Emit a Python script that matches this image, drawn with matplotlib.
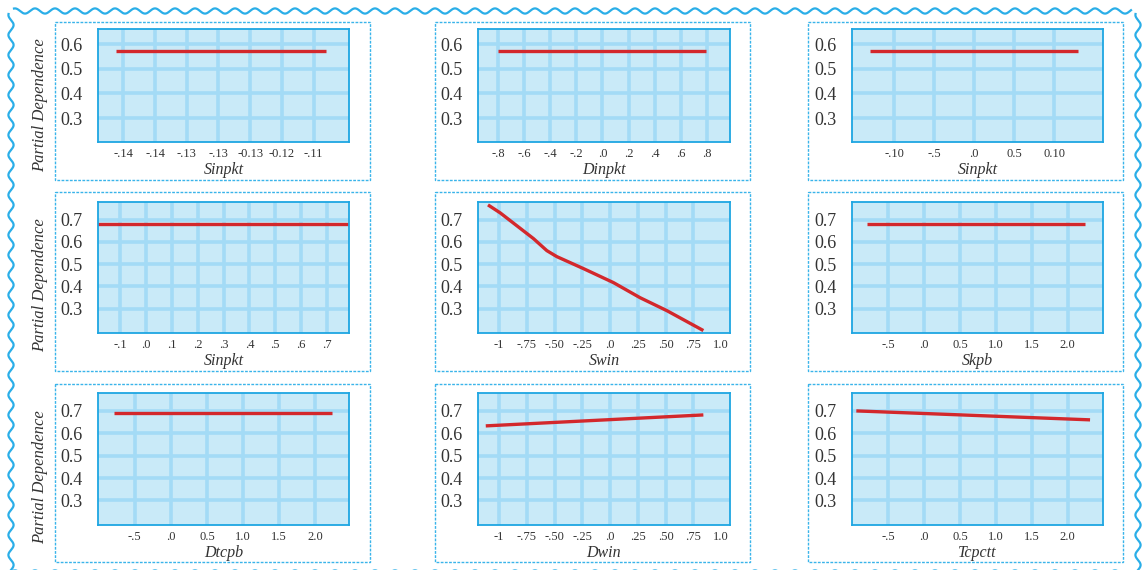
import numpy as np
import matplotlib
matplotlib.use("Agg")
import matplotlib.pyplot as plt
from matplotlib.patches import Rectangle

W, H = 1143, 570

# ---- data -------------------------------------------------------------
names = ["Sinpkt", "Dinpkt", "Sinpkt",
         "Sinpkt", "Swin", "Skpb",
         "Dtcpb", "Dwin", "Tcpctt"]

sinpkt1_ticks = [-0.145, -0.14, -0.135, -0.13, -0.125, -0.12, -0.115]
sinpkt1_labels = ["-.14", "-.14", "-.13", "-.13", "-0.13", "-0.12", "-.11"]
dinpkt_ticks = [-0.8, -0.6, -0.4, -0.2, 0.0, 0.2, 0.4, 0.6, 0.8]
dinpkt_labels = ["-.8", "-.6", "-.4", "-.2", ".0", ".2", ".4", ".6", ".8"]
sinpkt3_ticks = [-0.10, -0.05, 0.0, 0.05, 0.10]
sinpkt3_labels = ["-.10", "-.5", ".0", "0.5", "0.10"]
sinpkt4_ticks = [-0.1, 0.0, 0.1, 0.2, 0.3, 0.4, 0.5, 0.6, 0.7]
sinpkt4_labels = ["-.1", ".0", ".1", ".2", ".3", ".4", ".5", ".6", ".7"]
win_ticks = [-1.0, -0.75, -0.5, -0.25, 0.0, 0.25, 0.5, 0.75, 1.0]
win_labels = ["-1", "-.75", "-.50", "-.25", ".0", ".25", ".50", ".75", "1.0"]
big_ticks = [-0.5, 0.0, 0.5, 1.0, 1.5, 2.0]
big_labels = ["-.5", ".0", "0.5", "1.0", "1.5", "2.0"]

xticks = [sinpkt1_ticks, dinpkt_ticks, sinpkt3_ticks,
          sinpkt4_ticks, win_ticks, big_ticks,
          big_ticks, win_ticks, big_ticks]
xlabels = [sinpkt1_labels, dinpkt_labels, sinpkt3_labels,
           sinpkt4_labels, win_labels, big_labels,
           big_labels, win_labels, big_labels]
xlims = [(-0.149, -0.1094), (-0.953, 0.976), (-0.1525, 0.161),
         (-0.185, 0.785), (-1.19, 1.08), (-1.0, 2.49),
         (-1.01, 2.47), (-1.19, 1.08), (-1.0, 2.49)]

line_x = [[-0.1461, -0.1131], [-0.8, 0.79], [-0.13, 0.13],
          [-0.19, 0.79],
          [-1.10, -0.99, -0.84, -0.69, -0.57, -0.48, -0.24, 0.03, 0.27, 0.51, 0.84],
          [-0.79, 2.24],
          [-0.79, 2.24], [-1.12, 0.84], [-0.94, 2.31]]
line_y = [[0.572, 0.572], [0.572, 0.572], [0.572, 0.572],
          [0.682, 0.682],
          [0.767, 0.731, 0.673, 0.615, 0.561, 0.534, 0.480, 0.417, 0.349, 0.291, 0.201],
          [0.682, 0.682],
          [0.69, 0.69], [0.633, 0.682], [0.70, 0.66]]

row_yticks = [[0.3, 0.4, 0.5, 0.6], [0.3, 0.4, 0.5, 0.6, 0.7], [0.3, 0.4, 0.5, 0.6, 0.7]]
row_ylims = [(0.203, 0.661), (0.19, 0.78), (0.19, 0.78)]

# ---- layout (pixels) --------------------------------------------------
col_x = [(98, 349), (478, 730), (852, 1103)]
row_y = [(29, 142), (202, 333), (393, 525)]
box_x = [(55, 370), (435, 750), (808, 1123)]
box_y = [(22, 180), (192, 371), (384, 562)]

BLUE = "#2aaee8"
FACE = "#c9eaf8"
GRID = "#a3dbf6"
RED = "#d3282c"
TXT = "#333333"

plt.rcParams["font.family"] = ["Liberation Serif", "DejaVu Serif"]

fig = plt.figure(figsize=(W / 100, H / 100), dpi=100)

# decoration layer: wavy frame + dashed panel boxes
deco = fig.add_axes([0, 0, 1, 1])
deco.set_xlim(0, W)
deco.set_ylim(H, 0)
deco.axis("off")

amp, wl = 2.6, 20.0
t = np.linspace(14, W - 12, 2000)
deco.plot(t, 11 + amp * np.sin(2 * np.pi * t / wl), color=BLUE, lw=1.6)
deco.plot(t, 573 + amp * np.sin(2 * np.pi * t / wl), color=BLUE, lw=1.6)
s = np.linspace(14, H, 1000)
deco.plot(11 + amp * np.sin(2 * np.pi * s / wl), s, color=BLUE, lw=1.6)
deco.plot(W - 5 + amp * np.sin(2 * np.pi * s / wl), s, color=BLUE, lw=1.6)

for r in range(3):
    for c in range(3):
        x0, x1 = box_x[c]
        y0, y1 = box_y[r]
        deco.add_patch(Rectangle((x0, y0), x1 - x0, y1 - y0, fill=False,
                                 edgecolor="#3ab4ea", lw=1.0,
                                 linestyle=(0, (2, 1))))

# ---- panels ------------------------------------------------------------
for i in range(9):
    r, c = divmod(i, 3)
    x0, x1 = col_x[c]
    y0, y1 = row_y[r]
    ax = fig.add_axes([x0 / W, 1 - y1 / H, (x1 - x0) / W, (y1 - y0) / H])
    ax.set_facecolor(FACE)
    ax.set_xlim(*xlims[i])
    ax.set_ylim(*row_ylims[r])
    ax.set_xticks(xticks[i])
    ax.set_xticklabels(xlabels[i])
    ax.set_yticks(row_yticks[r])
    ax.set_yticklabels([f"{v:.1f}" for v in row_yticks[r]])
    ax.tick_params(axis="x", length=0, pad=4, labelsize=9, labelcolor=TXT)
    ax.tick_params(axis="y", length=0, pad=11, labelsize=13, labelcolor=TXT)
    ax.grid(True, color=GRID, lw=2.6)
    ax.set_axisbelow(True)
    if xticks[i] is win_ticks:
        ax.get_xgridlines()[-1].set_visible(False)
    for sp in ax.spines.values():
        sp.set_color("#1ea6e2")
        sp.set_linewidth(1.3)

    ax.plot(line_x[i], line_y[i], color=RED, lw=2.4, solid_capstyle="butt",
            solid_joinstyle="round")

    ax.set_xlabel(names[i], style="italic", fontsize=11.5, color=TXT)
    ax.xaxis.set_label_coords(0.5, -20.0 / (y1 - y0))

    if c == 0:
        fig.text(40 / W, 1 - ((box_y[r][0] + box_y[r][1]) / 2 + 4) / H,
                 "Partial Dependence", rotation=90, style="italic",
                 fontsize=12, color=TXT, ha="center", va="center")

fig.savefig("out.png", dpi=100)
